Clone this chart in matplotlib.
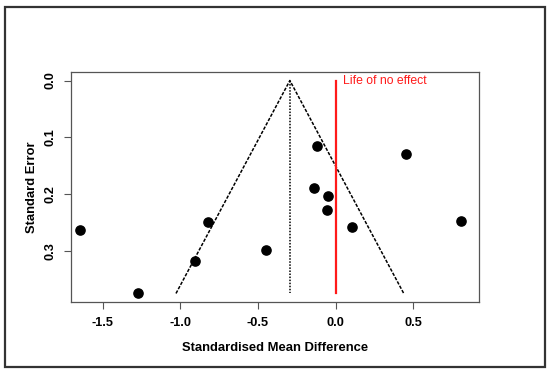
import matplotlib
matplotlib.use("Agg")
import matplotlib.pyplot as plt
from matplotlib.patches import Rectangle

# Data
smd = [-1.647, -1.273, -0.904, -0.821, -0.450, -0.121, -0.139, -0.047, -0.056, 0.108, 0.454, 0.805]
se = [0.263, 0.374, 0.317, 0.248, 0.298, 0.115, 0.188, 0.202, 0.228, 0.258, 0.129, 0.247]
pooled = -0.294
se_max = 0.374
z = 1.96
xticks = [-1.5, -1.0, -0.5, 0.0, 0.5]
yticks = [0.0, 0.1, 0.2, 0.3]

plt.rcParams['font.family'] = ['Liberation Sans', 'DejaVu Sans']

fig = plt.figure(figsize=(5.5, 3.71), dpi=100)
ax = fig.add_axes([0.1285, 0.186, 0.742, 0.620])

# funnel
ax.plot([pooled - z * se_max, pooled, pooled + z * se_max], [se_max, 0, se_max],
        color='black', lw=1.1, linestyle=(0, (2.2, 1.0)))
ax.plot([pooled, pooled], [0, se_max], color='black', lw=1.1, linestyle=(0, (1, 1)))
# line of no effect
ax.plot([0, 0], [0, se_max], color='#ff1a1a', lw=1.6)
ax.text(0.045, 0.0, 'Life of no effect', color='#ff1a1a', fontsize=8.8,
        ha='left', va='center')

ax.scatter(smd, se, s=44, color='black', zorder=3)

ax.set_xlim(-1.705, 0.922)
ax.set_ylim(0.389, -0.015)
ax.set_xticks(xticks)
ax.set_xticklabels([f"{t:.1f}" for t in xticks], fontweight='bold', fontsize=9.2)
ax.set_yticks(yticks)
ax.set_yticklabels([f"{t:.1f}" for t in yticks], fontweight='bold', fontsize=9.2,
                   rotation=90, va='center')
ax.tick_params(axis='x', direction='out', length=5, width=0.8, color='#555555', pad=6)
ax.tick_params(axis='y', direction='out', length=5, width=0.8, color='#555555', pad=5)
for sp in ax.spines.values():
    sp.set_color('#555555')
    sp.set_linewidth(0.9)

ax.set_xlabel('Standardised Mean Difference', fontweight='bold', fontsize=9.4, labelpad=9)
ax.set_ylabel('Standard Error', fontweight='bold', fontsize=9.4, labelpad=5)

# outer frame
fig.patches.append(Rectangle((4.5 / 550, 1 - 367 / 371), (544.5 - 4.5) / 550, (367 - 6.5) / 371,
                             transform=fig.transFigure, fill=False,
                             edgecolor='#333333', lw=1.6))

fig.savefig('out.png', dpi=100)
